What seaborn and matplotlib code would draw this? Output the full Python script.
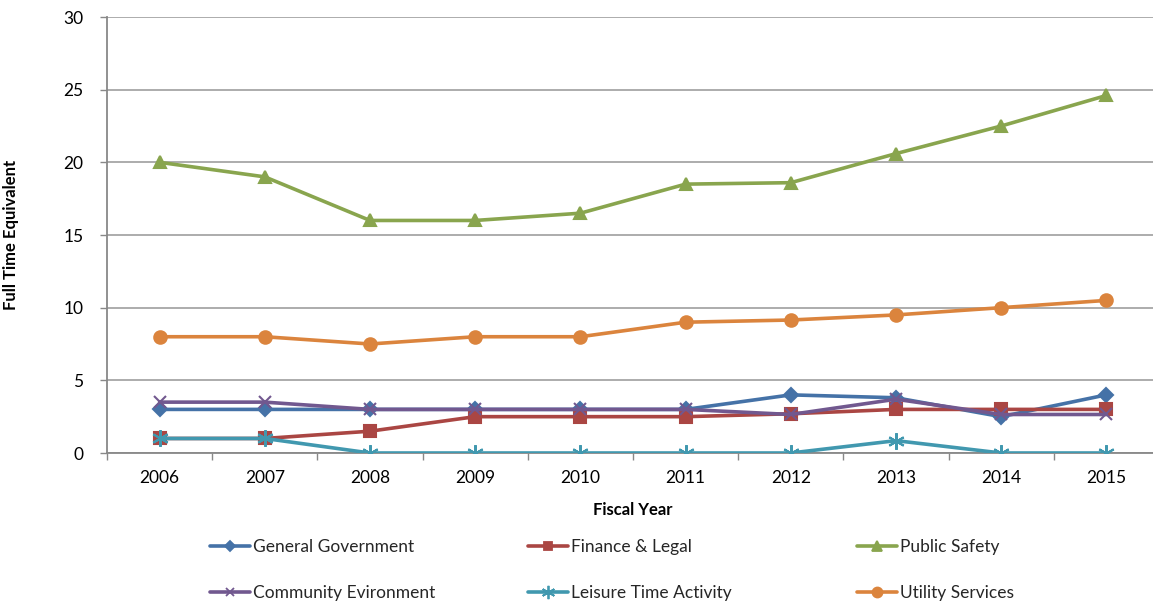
import matplotlib
matplotlib.use("Agg")
import matplotlib.pyplot as plt
import seaborn as sns
import pandas as pd
from matplotlib.lines import Line2D

years = ["2006", "2007", "2008", "2009", "2010", "2011", "2012", "2013", "2014", "2015"]
general_government = [3, 3, 3, 3, 3, 3, 4, 3.8, 2.5, 4]
finance_legal = [1, 1, 1.5, 2.5, 2.5, 2.5, 2.7, 3, 3, 3]
public_safety = [20, 19, 16, 16, 16.5, 18.5, 18.6, 20.6, 22.5, 24.6]
community_environment = [3.5, 3.5, 3, 3, 3, 3, 2.65, 3.7, 2.65, 2.65]
leisure_time = [1, 1, 0, 0, 0, 0, 0, 0.85, 0, 0]
utility_services = [8, 8, 7.5, 8, 8, 9, 9.15, 9.5, 10, 10.5]

series_names = ["General Government", "Finance & Legal", "Public Safety",
                "Community Evironment", "Leisure Time Activity", "Utility Services"]
series_values = [general_government, finance_legal, public_safety,
                 community_environment, leisure_time, utility_services]
colors = ["#4572A7", "#AA4643", "#89A54E", "#71588F", "#4198AF", "#DB843D"]
markers = ["D", "s", "^", "x", (6, 2, 0), "o"]
msizes = [7, 8, 9, 8, 12, 9]

sns.set_theme(style="white")
plt.rcParams['font.family'] = ['Lato', 'DejaVu Sans']

fig = plt.figure(figsize=(11.53, 6.01), dpi=100)
ax = fig.add_axes([107/1153, 1 - 453/601, 1052/1153, 436/601])

handles = []
for i, (name, vals) in enumerate(zip(series_names, series_values)):
    df = pd.DataFrame({"x": list(range(len(years))), "y": vals})
    sns.lineplot(data=df, x="x", y="y", ax=ax, color=colors[i], linewidth=2.6,
                 marker=markers[i], markersize=msizes[i], markeredgecolor=colors[i],
                 markeredgewidth=1.5, zorder=3 + i, legend=False)
    handles.append(Line2D([0], [0], color=colors[i], linewidth=2.6, marker=markers[i],
                          markersize=msizes[i] * 0.8, markeredgecolor=colors[i],
                          markeredgewidth=1.3, label=name))

ax.set_xlim(-0.5, 9.5)
ax.set_ylim(0, 30)
ax.set_yticks([0, 5, 10, 15, 20, 25, 30])
ax.set_xticks(range(len(years)))
ax.set_xticklabels(years)
ax.set_xticks([i + 0.5 for i in range(-1, 10)], minor=True)
ax.tick_params(axis="x", which="major", length=0, pad=12, labelsize=12.5, colors="black")
ax.tick_params(axis="x", which="minor", length=5, width=1, color="#888888", direction="out", bottom=True)
ax.tick_params(axis="y", which="major", length=5, width=1, color="#888888", direction="out",
               left=True, pad=12, labelsize=12.5)
for t in ax.get_yticklabels() + ax.get_xticklabels():
    t.set_color("black")
ax.yaxis.grid(True, color="#A6A6A6", linewidth=1.3)
ax.xaxis.grid(False)
for s in ["top", "right"]:
    ax.spines[s].set_visible(False)
for s in ["left", "bottom"]:
    ax.spines[s].set_color("#888888")
    ax.spines[s].set_linewidth(1.3)
ax.set_axisbelow(True)

ax.set_xlabel("Fiscal Year", fontsize=12, fontweight="bold", labelpad=12, color="black")
ax.set_ylabel("Full Time Equivalent", fontsize=12, fontweight="bold", color="black")
ax.yaxis.set_label_coords(-88 / 1052, 0.5)

# legend: three columns, each two rows
col_x = [210, 528, 857]
for c in range(3):
    idx = [c, c + 3]
    fig.legend([handles[i] for i in idx], [series_names[i] for i in idx],
               ncol=1, loc="center left", bbox_to_anchor=(col_x[c] / 1153, 1 - 570 / 601),
               frameon=False, fontsize=12.5, handlelength=2.3, borderpad=0,
               borderaxespad=0, labelspacing=1.72, handletextpad=0.15)

fig.savefig("out.png", dpi=100)
